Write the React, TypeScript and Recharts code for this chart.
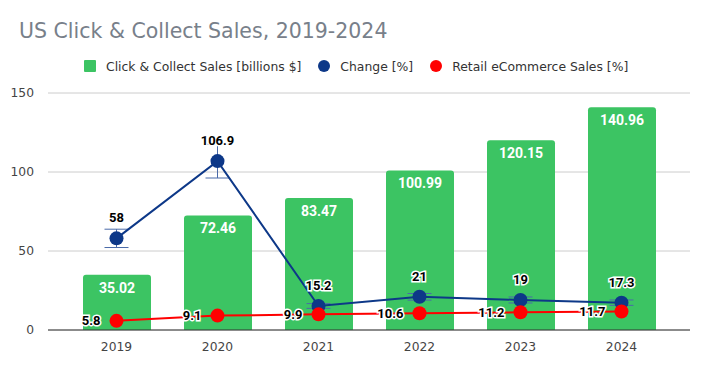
import { Bar, CartesianGrid, ComposedChart, ErrorBar, LabelList, Line, XAxis, YAxis } from "recharts";

const years = ["2019", "2020", "2021", "2022", "2023", "2024"];
const clickCollect = [35.02, 72.46, 83.47, 100.99, 120.15, 140.96];
const change = [58, 106.9, 15.2, 21, 19, 17.3];
const changeErr = [5.8, 10.7, 1.5, 2.1, 1.9, 1.7];
const retail = [5.8, 9.1, 9.9, 10.6, 11.2, 11.7];
const yTicks = [0, 50, 100, 150];

const GREEN = "#3cc463";
const NAVY = "#0d3888";
const RED = "#ff0000";
const FONT = "Roboto, sans-serif";
const TEXT_FONT = "'DejaVu Sans', sans-serif";

const data = years.map((y, i) => ({
  year: y,
  sales: clickCollect[i],
  change: change[i],
  changeErr: changeErr[i],
  retail: retail[i],
}));

const haloLabel = {
  fill: "#000",
  fontSize: 13,
  fontWeight: 700,
  fontFamily: FONT,
  stroke: "#fff",
  strokeWidth: 3,
  paintOrder: "stroke",
} as const;

function LegendItem({ color, shape, label }: { color: string; shape: "square" | "circle"; label: string }) {
  return (
    <div style={{ display: "flex", alignItems: "center", marginRight: 17 }}>
      <span
        style={{
          width: 12,
          height: 12,
          background: color,
          borderRadius: shape === "circle" ? "50%" : 1,
          marginRight: 10,
          display: "inline-block",
        }}
      />
      <span>{label}</span>
    </div>
  );
}

export default function App() {
  return (
    <div style={{ position: "absolute", left: 0, top: 0, width: 708, height: 371, background: "#fff", fontFamily: FONT }}>
      <div
        style={{
          position: "absolute",
          left: 19,
          top: 20,
          fontSize: 20.5,
          lineHeight: "23px",
          fontFamily: TEXT_FONT,
          color: "#78808a",
          whiteSpace: "nowrap",
        }}
      >
        US Click &amp; Collect Sales, 2019-2024
      </div>
      <div
        style={{
          position: "absolute",
          left: 84,
          top: 58,
          height: 16,
          display: "flex",
          alignItems: "center",
          fontSize: 12.4,
          fontFamily: TEXT_FONT,
          color: "#333",
          whiteSpace: "nowrap",
        }}
      >
        <LegendItem color={GREEN} shape="square" label="Click & Collect Sales [billions $]" />
        <LegendItem color={NAVY} shape="circle" label="Change [%]" />
        <LegendItem color={RED} shape="circle" label="Retail eCommerce Sales [%]" />
      </div>
      <ComposedChart
        width={708}
        height={371}
        data={data}
        margin={{ top: 93, right: 18, left: 0, bottom: 0 }}
        barCategoryGap={16}
      >
        <CartesianGrid vertical={false} stroke="#cccccc" />
        <XAxis
          dataKey="year"
          padding={{ left: 18, right: 18 }}
          height={41}
          tickLine={false}
          axisLine={{ stroke: "#333" }}
          tick={{ fill: "#444", fontSize: 12.3, fontFamily: TEXT_FONT }}
          tickMargin={6}
        />
        <YAxis
          domain={[0, 150]}
          ticks={yTicks}
          width={48}
          axisLine={false}
          tickLine={false}
          tick={{ fill: "#444", fontSize: 12.3, fontFamily: TEXT_FONT }}
          tickMargin={8}
        />
        <Bar dataKey="sales" fill={GREEN} barSize={68} radius={[3, 3, 0, 0]} isAnimationActive={false}>
          <LabelList
            dataKey="sales"
            position="insideTop"
            offset={8}
            style={{ fill: "#fff", fontSize: 14, fontWeight: 700, fontFamily: FONT }}
          />
        </Bar>
        <Line
          dataKey="change"
          stroke={NAVY}
          strokeWidth={2}
          dot={{ r: 7, fill: NAVY, stroke: NAVY, strokeWidth: 0 }}
          isAnimationActive={false}
        >
          <ErrorBar dataKey="changeErr" width={12} stroke="#4a6aa8" strokeWidth={1} direction="y" />
          <LabelList dataKey="change" position="top" offset={16} style={haloLabel} />
        </Line>
        <Line
          dataKey="retail"
          stroke={RED}
          strokeWidth={2}
          dot={{ r: 7, fill: RED, stroke: RED, strokeWidth: 0 }}
          isAnimationActive={false}
        >
          <LabelList dataKey="retail" position="left" offset={16} style={haloLabel} />
        </Line>
      </ComposedChart>
    </div>
  );
}
